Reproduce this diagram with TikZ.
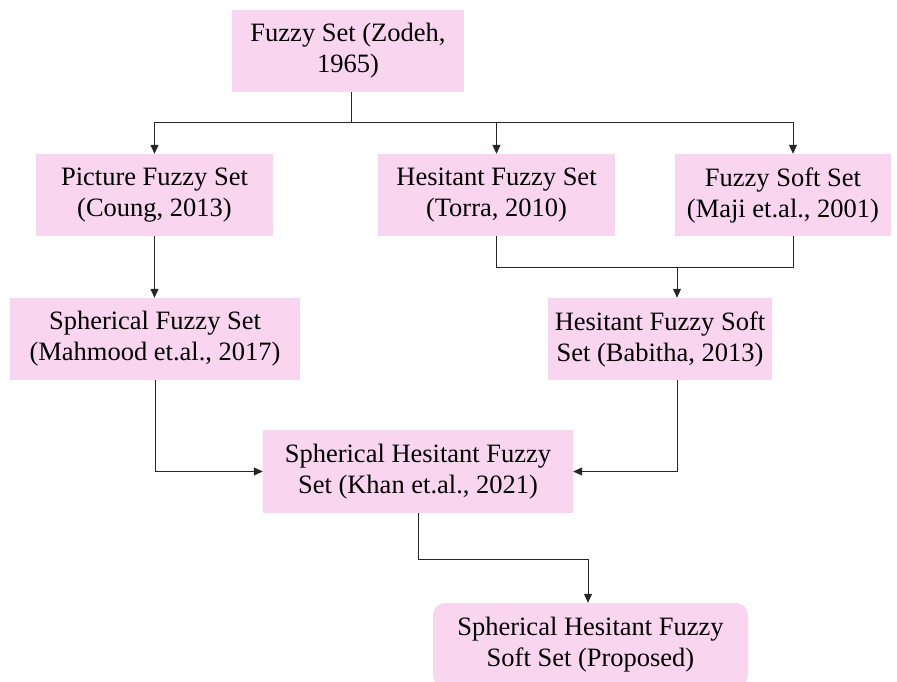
\documentclass[tikz,border=0pt]{standalone}
\usepackage{fontspec}
\setmainfont{Liberation Serif}
\usetikzlibrary{arrows.meta}
\definecolor{setpink}{RGB}{249,213,240}

\begin{document}
\begin{tikzpicture}[x=1pt,y=-1pt,
  setbox/.style={fill=setpink,draw=none,align=center,inner sep=0pt,font=\fontsize{26.5}{31}\selectfont},
  link/.style={draw=black!85,line width=1pt},
  arr/.style={link,-{Triangle[length=9pt,width=8pt]}}]
\useasboundingbox (0,0) rectangle (897,682);
\node[setbox,minimum width=232,minimum height=82] (fs) at (348,51) {Fuzzy Set (Zodeh,\\1965)};
\node[setbox,minimum width=237,minimum height=82] (pfs) at (154.5,195) {Picture Fuzzy Set\\(Coung, 2013)};
\node[setbox,minimum width=237,minimum height=82] (hfs) at (496.5,195) {Hesitant Fuzzy Set\\(Torra, 2010)};
\node[setbox,minimum width=216,minimum height=82] (fss) at (783,195) {Fuzzy Soft Set\\(Maji et.al., 2001)};
\node[setbox,minimum width=290,minimum height=82] (sfs) at (155,339) {Spherical Fuzzy Set\\(Mahmood et.al., 2017)};
\node[setbox,minimum width=224,minimum height=82] (hfss) at (660,339) {Hesitant Fuzzy Soft\\Set (Babitha, 2013)};
\node[setbox,minimum width=310,minimum height=83] (shfs) at (418,471.5) {Spherical Hesitant Fuzzy\\Set (Khan et.al., 2021)};
\node[setbox,rounded corners=12pt,minimum width=315,minimum height=84] (shfss) at (590.5,645) {Spherical Hesitant Fuzzy\\Soft Set (Proposed)};
% junctions
\coordinate (split) at (351,123);
\coordinate (merge) at (677,267);
\coordinate (turn) at (418,559);
% connectors
\draw[link] (fs.south -| split) -- (split);
\draw[arr] (split) -| (pfs.north);
\draw[arr] (split) -| (hfs.north);
\draw[arr] (split) -| ([xshift=10pt]fss.north);
\draw[arr] (pfs.south) -- (pfs.south |- sfs.north);
\draw[link] (hfs.south) |- (merge);
\draw[link] ([xshift=10pt]fss.south) |- (merge);
\draw[arr] (merge) -- (merge |- hfss.north);
\draw[arr] (sfs.south) |- (shfs.west);
\draw[arr] (merge |- hfss.south) |- (shfs.east);
\draw[link] (shfs.south) -- (turn);
\draw[arr] (turn) -| ([xshift=-2.5pt]shfss.north);
\end{tikzpicture}
\end{document}
